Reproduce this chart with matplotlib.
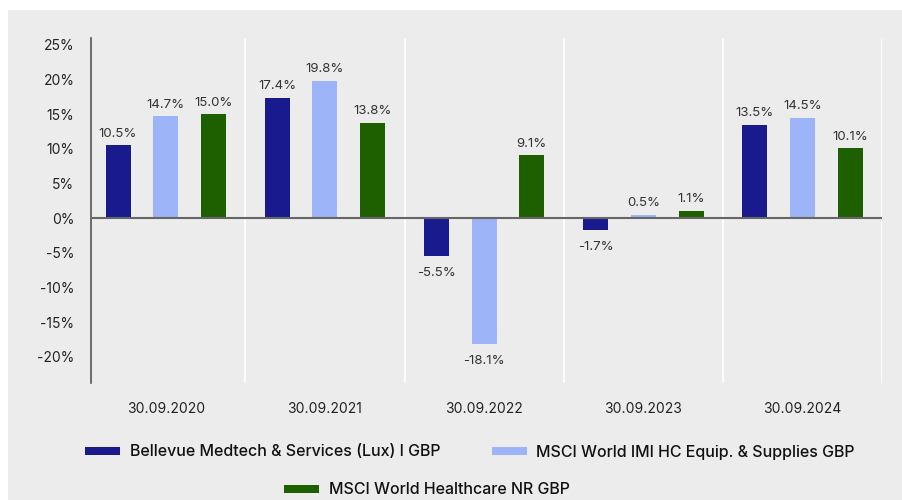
import numpy as np
import matplotlib.pyplot as plt
from matplotlib.patches import Rectangle, Patch

plt.rcParams['font.family'] = ['Inter', 'DejaVu Sans']

# Data
years = ['30.09.2020', '30.09.2021', '30.09.2022', '30.09.2023', '30.09.2024']
fund = [10.5, 17.4, -5.5, -1.7, 13.5]
imi_hc = [14.7, 19.8, -18.1, 0.5, 14.5]
world_hc = [15.0, 13.8, 9.1, 1.1, 10.1]
names = ['Bellevue Medtech & Services (Lux) I GBP',
         'MSCI World IMI HC Equip. & Supplies GBP',
         'MSCI World Healthcare NR GBP']
colors = ['#1a1a8f', '#9db4f8', '#1e6000']
bg = '#ececec'

fig = plt.figure(figsize=(9.03, 5), dpi=100)
fig.patch.set_facecolor('white')
fig.patches.append(Rectangle((8 / 903, 0), 1, 1 - 10 / 500, transform=fig.transFigure,
                             facecolor=bg, edgecolor='none', zorder=-10))

ax = fig.add_axes([91 / 903, 1 - 383 / 500, (882 - 91) / 903, (383 - 38) / 500])
ax.set_facecolor(bg)

x = np.arange(len(years))
w = 0.157
off = 0.30
for i, (vals, c) in enumerate(zip([fund, imi_hc, world_hc], colors)):
    bars = ax.bar(x + (i - 1) * off, vals, width=w, color=c, zorder=3)
    for b, v in zip(bars, vals):
        cx = b.get_x() + b.get_width() / 2
        if v >= 0:
            ax.annotate(f'{v:.1f}%', (cx, v), xytext=(0, 4), textcoords='offset points',
                        ha='center', va='bottom', fontsize=9.5, color='#333333')
        else:
            ax.annotate(f'{v:.1f}%', (cx, v), xytext=(0, -8), textcoords='offset points',
                        ha='center', va='top', fontsize=9.5, color='#333333')

ax.set_xlim(-0.47, 4.49)
ax.set_ylim(-23.8, 26.0)
ax.set_yticks(np.arange(-20, 26, 5))
ax.set_yticklabels([f'{t}%' for t in range(-20, 26, 5)], fontsize=10, color='#222222')
ax.set_xticks(x)
ax.set_xticklabels(years, fontsize=10, color='#222222')
ax.set_xticks(np.arange(0.5, 4.6, 1), minor=True)
ax.tick_params(axis='both', which='major', length=0, pad=12)
ax.tick_params(axis='x', which='major', pad=14)
ax.tick_params(axis='x', which='minor', length=0)
ax.grid(True, axis='x', which='minor', color='white', linewidth=1.2, zorder=1)
ax.axhline(0, color='#666666', linewidth=1.5, zorder=4)

for s in ['top', 'right', 'bottom']:
    ax.spines[s].set_visible(False)
ax.spines['left'].set_color('#555555')
ax.spines['left'].set_linewidth(1.2)

h = [Patch(facecolor=c) for c in colors]
lprops = dict(size=11.5, weight='medium')
leg1 = fig.legend(h[:2], names[:2], loc='center', bbox_to_anchor=(470 / 903, 1 - 452 / 500),
                  ncol=2, frameon=False, prop=lprops, handlelength=2.2, handleheight=0.45,
                  columnspacing=3.2, handletextpad=0.6)
leg2 = fig.legend(h[2:], names[2:], loc='center', bbox_to_anchor=(427 / 903, 1 - 490 / 500),
                  frameon=False, prop=lprops, handlelength=2.2, handleheight=0.45,
                  handletextpad=0.6)
for lg in (leg1, leg2):
    for t in lg.get_texts():
        t.set_color('#111111')

fig.savefig('out.png', dpi=100, facecolor=fig.get_facecolor())
